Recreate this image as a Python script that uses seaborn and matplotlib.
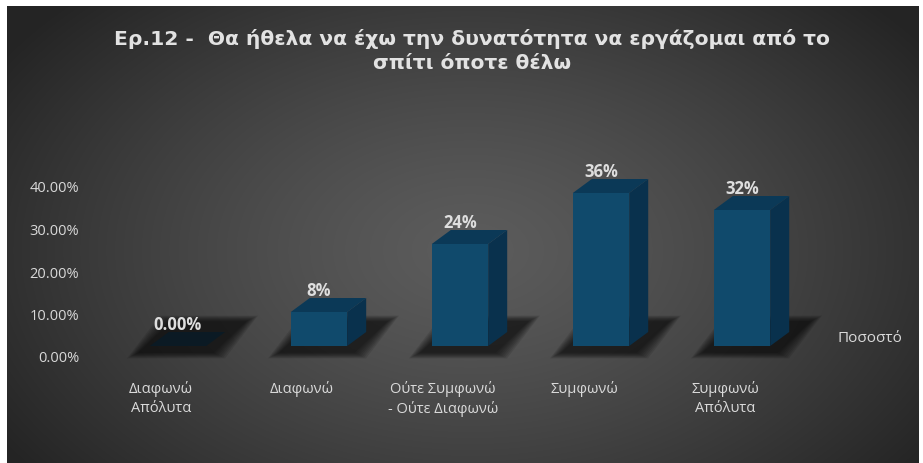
import numpy as np
import matplotlib
matplotlib.use("Agg")
import matplotlib.pyplot as plt
import seaborn as sns
import pandas as pd
from matplotlib.patches import Polygon

# Survey answers and their shares
categories = ["Διαφωνώ\nΑπόλυτα", "Διαφωνώ", "Ούτε Συμφωνώ\n- Ούτε Διαφωνώ",
              "Συμφωνώ", "Συμφωνώ\nΑπόλυτα"]
shares = [0.00, 0.08, 0.24, 0.36, 0.32]
value_labels = ["0.00%", "8%", "24%", "36%", "32%"]
y_ticks = [0.0, 0.1, 0.2, 0.3, 0.4]
y_tick_labels = ["0.00%", "10.00%", "20.00%", "30.00%", "40.00%"]
series_name = "Ποσοστό"
title = "Ερ.12 -  Θα ήθελα να έχω την δυνατότητα να εργάζομαι από το\nσπίτι όποτε θέλω"

df = pd.DataFrame({"answer": categories, "share": shares})

W, H = 923, 463
sns.set_theme(style="white")
plt.rcParams["font.family"] = ["Open Sans", "DejaVu Sans"]

fig = plt.figure(figsize=(W / 100, H / 100), dpi=100, facecolor="white")

# Dark radial-gradient panel
left_px, top_px, right_px = 7, 6, 919
bg = fig.add_axes([left_px / W, 0, (right_px - left_px) / W, (H - top_px) / H])
yy, xx = np.mgrid[top_px:H, left_px:right_px]
d = np.sqrt(((xx - 470) / 560.0) ** 2 + ((yy - 250) / 360.0) ** 2)
d = np.clip(d, 0, 1)
level = (92 - (92 - 36) * d ** 1.3) / 255.0
bg.imshow(np.dstack([level, level, level]), aspect="auto", interpolation="bilinear")
bg.set_axis_off()

# Plot area: 141 px per category, 425 px per unit share
ax_l, ax_r = 100, 830
ax_top, ax_bot = 142, 371.5
ax = fig.add_axes([ax_l / W, (H - ax_bot) / H, (ax_r - ax_l) / W, (ax_bot - ax_top) / H])
ax.patch.set_alpha(0)

front = "#104a6c"
top_c = "#0b3957"
side_c = "#09314d"

sns.barplot(data=df, x="answer", y="share", color=front, width=0.4,
            saturation=1, ax=ax, zorder=3, edgecolor="none")
ax.set_xlim(-0.553, 4.624)
ax.set_ylim(-0.06, 0.48)

dx = 19 / 141.0
dy = 14 / 425.0
px_x = 1 / 141.0
px_y = 1 / 425.0

for patch, lab in zip(ax.patches, value_labels):
    x0 = patch.get_x()
    w = patch.get_width()
    h = patch.get_height()
    # soft shadow under the bar footprint
    for k in range(8):
        g = (8 - k) * 1.6
        shadow = Polygon([
            (x0 - (10 + g) * px_x, -(6 + g * 0.5) * px_y),
            (x0 + w + (6 + g) * px_x, -(6 + g * 0.5) * px_y),
            (x0 + w + dx + (20 + g) * px_x, dy + (10 + g * 0.5) * px_y),
            (x0 + dx + (4 - g) * px_x, dy + (10 + g * 0.5) * px_y),
        ], closed=True, facecolor="black", edgecolor="none", alpha=0.1, zorder=1)
        ax.add_patch(shadow)
    # side and top faces
    side = Polygon([(x0 + w, 0), (x0 + w + dx, dy), (x0 + w + dx, h + dy), (x0 + w, h)],
                   closed=True, facecolor=side_c, edgecolor="none", zorder=2)
    ax.add_patch(side)
    top_face = Polygon([(x0, h), (x0 + w, h), (x0 + w + dx, h + dy), (x0 + dx, h + dy)],
                       closed=True, facecolor=top_c if h > 0 else "#0b1a24",
                       edgecolor="none", zorder=4)
    ax.add_patch(top_face)
    ax.annotate(lab, xy=(x0 + w / 2, h), xytext=(0, 21), textcoords="offset pixels",
                ha="center", va="center", fontsize=12, fontweight="bold",
                color="#dedede", zorder=5)

# Axis ticks and labels
shift = 11 / 425.0
ax.set_yticks([t - shift for t in y_ticks])
ax.set_yticklabels(y_tick_labels)
ax.set_xticks(np.arange(len(categories)) - 0.12)
ax.set_xticklabels(categories)
ax.tick_params(axis="y", length=0, pad=15, labelsize=10.5, labelcolor="#d9d9d9")
ax.tick_params(axis="x", length=0, pad=6.5, labelsize=10.5, labelcolor="#d9d9d9")
for lbl in ax.get_xticklabels():
    lbl.set_multialignment("center")
    lbl.set_linespacing(1.4)
ax.set_xlabel("")
ax.set_ylabel("")
for s in ax.spines.values():
    s.set_visible(False)
ax.grid(False)

# Series name on the right
fig.text(870 / W, 1 - 338 / H, series_name, ha="center", va="center",
         fontsize=11, color="#d9d9d9")

# Title
fig.text(472 / W, 1 - 51 / H, title, ha="center", va="center", fontsize=14.6,
         fontweight="bold", color="#e2e2e2", linespacing=1.35,
         family=["DejaVu Sans"])

fig.savefig("out.png", dpi=100, facecolor="white")
